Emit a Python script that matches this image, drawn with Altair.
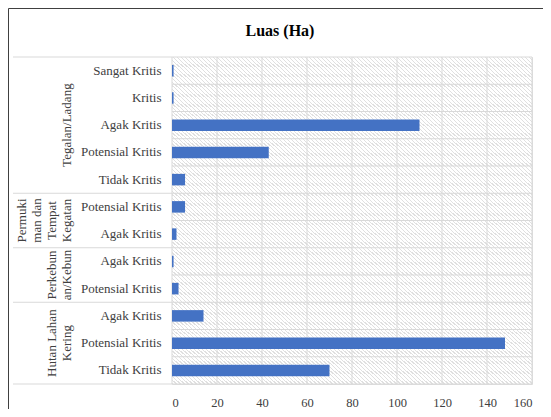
import altair as alt
import pandas as pd

# ---- data ----
title_text = "Luas (Ha)"
groups = ["Tegalan/Ladang", "Permukiman dan Tempat Kegatan", "Perkebunan/Kebun", "Hutan Lahan Kering"]
group_lines = ["Tegalan/Ladang", "Permuki\nman dan\nTempat\nKegatan", "Perkebun\nan/Kebun", "Hutan Lahan\nKering"]
categories = [
    ["Sangat Kritis", "Kritis", "Agak Kritis", "Potensial Kritis", "Tidak Kritis"],
    ["Potensial Kritis", "Agak Kritis"],
    ["Agak Kritis", "Potensial Kritis"],
    ["Agak Kritis", "Potensial Kritis", "Tidak Kritis"],
]
values = [
    [0.7, 0.7, 110, 43, 5.8],
    [5.8, 2.0],
    [0.7, 2.9],
    [14, 148, 70],
]
x_ticks = [0, 20, 40, 60, 80, 100, 120, 140, 160]

rows = []
for g, cats, vals in zip(groups, categories, values):
    for c, v in zip(cats, vals):
        rows.append({"group": g, "cat": c, "key": f"{g}|{c}", "value": v})
df = pd.DataFrame(rows)
keys = list(df["key"])
n_rows = len(keys)

# group label positions / separators from row counts
bounds = [0]
for cats in categories:
    bounds.append(bounds[-1] + len(cats))
centers = [(bounds[i] + bounds[i + 1]) / 2 for i in range(len(groups))]
seps = pd.DataFrame({"pos": bounds})
row_lines = pd.DataFrame({"pos": list(range(n_rows + 1))})
vgrid = pd.DataFrame({"tick": x_ticks})

FONT = "Liberation Serif"
GRID = "#d9d9d9"
TXT = "#404040"
LH = 15

# hatch-like background
stops = []
nper = 180
for k in range(nper):
    a = k / nper
    b = (k + 0.32) / nper
    c = (k + 1) / nper
    stops += [
        alt.GradientStop(color="#e0e0e0", offset=a),
        alt.GradientStop(color="#e0e0e0", offset=b),
        alt.GradientStop(color="#ffffff", offset=b),
        alt.GradientStop(color="#ffffff", offset=c),
    ]
hatch = alt.LinearGradient(gradient="linear", stops=stops, x1=0, y1=1, x2=1, y2=0)

xscale = alt.Scale(domain=[0, 160], nice=False)
qy = alt.Scale(domain=[0, n_rows], reverse=True, nice=False, zero=False)
xaxis = alt.Axis(values=x_ticks, title=None, ticks=False, tickSize=0, domain=False,
                 labelFont=FONT, labelFontSize=12.5, labelColor=TXT, labelPadding=12,
                 grid=False)

bg = alt.Chart(alt.Data(values=[{}])).mark_rect(color=hatch).encode(
    x=alt.value(0), x2=alt.value("width"),
    y=alt.value(0), y2=alt.value("height"),
)

vlines = alt.Chart(vgrid).mark_rule(color=GRID, strokeWidth=1).encode(
    x=alt.X("tick:Q", scale=xscale, axis=xaxis),
    y=alt.value(0), y2=alt.value("height"),
)

hlines = alt.Chart(row_lines).mark_rule(color=GRID, strokeWidth=1).encode(
    y=alt.Y("pos:Q", scale=qy, axis=None),
    x=alt.value(0), x2=alt.value("width"),
)

bars = alt.Chart(df).mark_bar(color="#4472C4", size=11.5).encode(
    x=alt.X("value:Q", scale=xscale, axis=xaxis),
    y=alt.Y("key:N", sort=keys,
            scale=alt.Scale(paddingInner=0, paddingOuter=0),
            axis=alt.Axis(title=None, labelExpr="split(datum.label, '|')[1]",
                          ticks=False, tickSize=0, domain=False,
                          labelFont=FONT, labelFontSize=13, labelColor=TXT, labelPadding=11,
                          grid=False)),
)

sep_rules = alt.Chart(seps).mark_rule(color=GRID, strokeWidth=1).encode(
    y=alt.Y("pos:Q", scale=qy, axis=None),
    x=alt.value(-159),
    x2=alt.value(0),
)

# group labels: one layer per group, lines stacked leftwards from a common right column
text_layers = []
for lab, ctr in zip(group_lines, centers):
    n_lines = lab.count("\n") + 1
    text_layers.append(
        alt.Chart(pd.DataFrame({"label": [lab], "pos": [ctr]})).mark_text(
            font=FONT, fontSize=13, color=TXT, angle=270, align="center", baseline="bottom",
            lineBreak="\n", lineHeight=LH,
        ).encode(
            y=alt.Y("pos:Q", scale=qy, axis=None),
            x=alt.value(-98.5 - (n_lines - 1) * LH),
            text="label:N",
        )
    )

title = alt.Chart(alt.Data(values=[{"t": title_text}])).mark_text(
    font=FONT, fontSize=16, fontWeight="bold", color="#000000", align="center", baseline="middle"
).encode(
    x=alt.value(108), y=alt.value(-26), text="t:N"
)

frame = alt.Chart(alt.Data(values=[{}])).mark_rect(
    fill="transparent", stroke="#404040", strokeWidth=1
).encode(
    x=alt.value(-163.5), x2=alt.value(500),
    y=alt.value(-48.5), y2=alt.value(500),
)

chart = alt.layer(bg, vlines, hlines, bars, sep_rules, *text_layers, title, frame).resolve_scale(
    y="independent"
).properties(
    width=360,
    height=327,
    autosize=alt.AutoSizeParams(type="none"),
    padding={"left": 164, "top": 49, "right": 11, "bottom": 25},
).configure_view(
    stroke=None
).configure_axis(
    labelColor=TXT
).configure(background="#ffffff")

chart.save("out.html", embed_options={"renderer": "svg", "actions": False})
